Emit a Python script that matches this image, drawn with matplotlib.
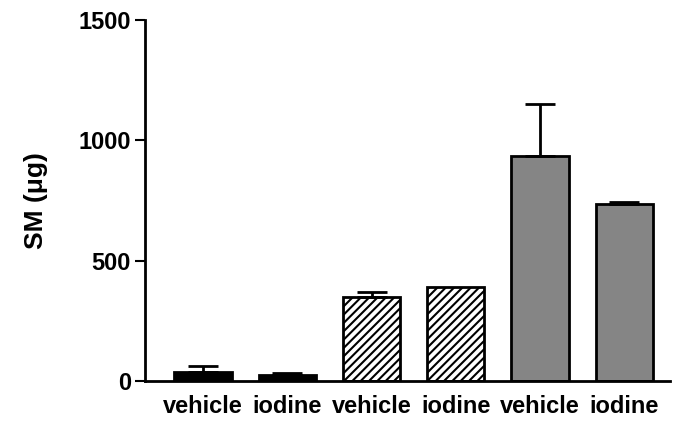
import matplotlib
matplotlib.use("Agg")
import matplotlib.pyplot as plt
import numpy as np

plt.rcParams['font.family'] = ['Liberation Sans', 'DejaVu Sans']
plt.rcParams['hatch.linewidth'] = 1.5

# Data
labels = ["vehicle", "iodine", "vehicle", "iodine", "vehicle", "iodine"]
values = [38, 25, 350, 392, 933, 737]
errors = [25, 8, 20, 0, 217, 5]
faces = ["black", "black", "white", "white", "#858585", "#858585"]
hatches = [None, None, "////", "////", None, None]

fig = plt.figure(figsize=(6.79, 4.21), dpi=100)
ax = fig.add_axes([0.2135, 0.095, 0.773, 0.8575])

x = np.arange(len(values))
for i in range(len(values)):
    ax.bar(x[i], values[i], width=0.68, color=faces[i], edgecolor="black",
           linewidth=2, hatch=hatches[i], zorder=2)
    if errors[i] > 0:
        ax.errorbar(x[i], values[i], yerr=[[0], [errors[i]]], fmt="none",
                    ecolor="black", elinewidth=2, capsize=11, capthick=2, zorder=3)

ax.set_xlim(-0.69, 5.54)
ax.set_ylim(0, 1500)
ax.set_yticks([0, 500, 1000, 1500])
ax.set_yticklabels(["0", "500", "1000", "1500"], fontsize=17, fontweight="bold")
ax.set_xticks(x)
ax.set_xticklabels(labels, fontsize=17, fontweight="bold")
ax.tick_params(axis="x", length=0, pad=10)
ax.tick_params(axis="y", length=7, width=1.5, direction="out", pad=3)
ax.set_ylabel("SM (μg)", fontsize=19, fontweight="bold", labelpad=22)

ax.spines["top"].set_visible(False)
ax.spines["right"].set_visible(False)
ax.spines["left"].set_linewidth(2)
ax.spines["bottom"].set_linewidth(2)

fig.savefig("out.png", dpi=100)
